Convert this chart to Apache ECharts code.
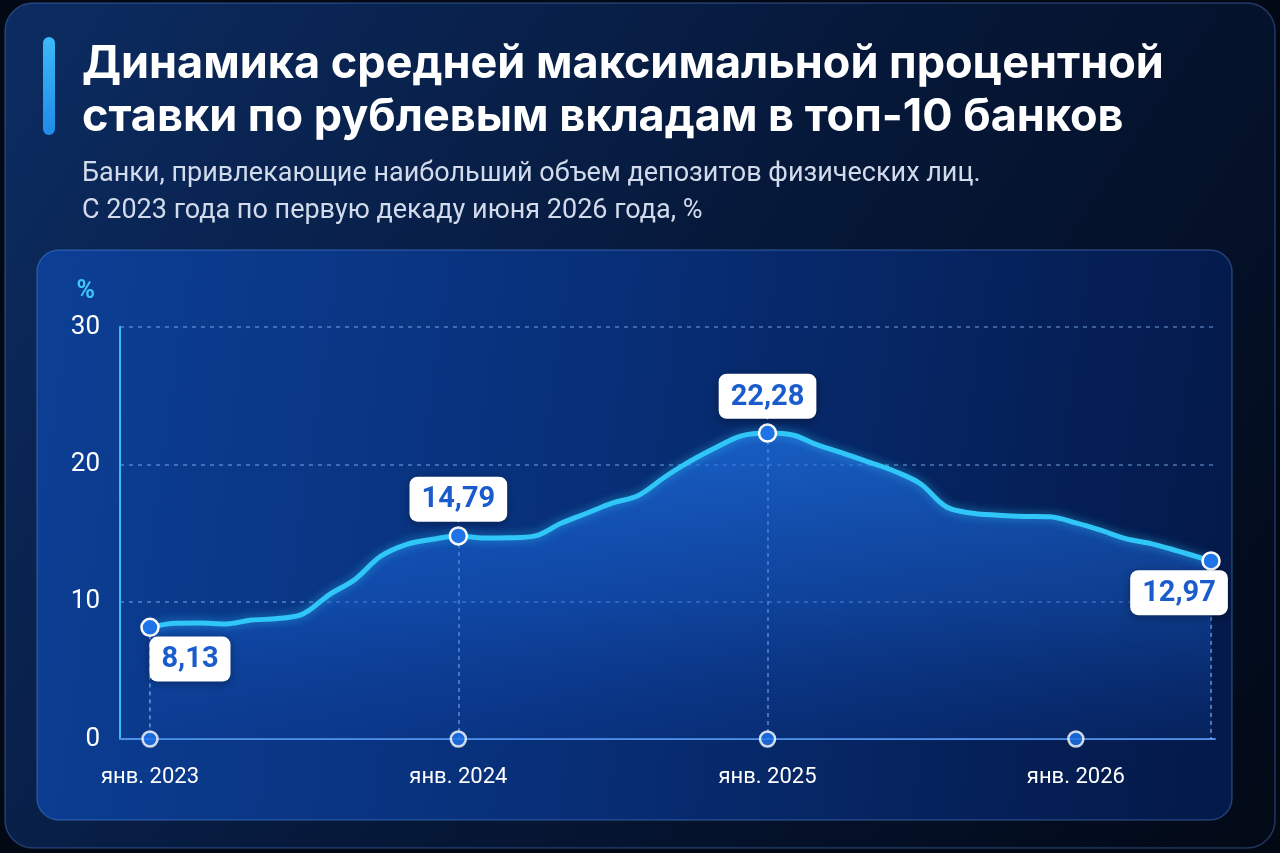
<!DOCTYPE html>
<html>
<head>
<meta charset="utf-8">
<script src="https://cdn.jsdelivr.net/npm/echarts@6/dist/echarts.min.js"></script>
<style>
html,body{margin:0;padding:0;background:#020814;}
#chart{width:1280px;height:853px;}
</style>
</head>
<body>
<div id="chart"></div>
<script>
// ---- data ----
const titleText = 'Динамика средней максимальной процентной\nставки по рублевым вкладам в топ-10 банков';
const subtitleText = 'Банки, привлекающие наибольший объем депозитов физических лиц.\nС 2023 года по первую декаду июня 2026 года, %';
const unitLabel = '%';
const dates = [
  '2023-01-01','2023-02-01','2023-03-01','2023-04-01','2023-05-01','2023-06-01',
  '2023-07-01','2023-08-01','2023-09-01','2023-10-01','2023-11-01','2023-12-01',
  '2024-01-01','2024-02-01','2024-03-01','2024-04-01','2024-05-01','2024-06-01',
  '2024-07-01','2024-08-01','2024-09-01','2024-10-01','2024-11-01','2024-12-01',
  '2025-01-01','2025-02-01','2025-03-01','2025-04-01','2025-05-01','2025-06-01',
  '2025-07-01','2025-08-01','2025-09-01','2025-10-01','2025-11-01','2025-12-01',
  '2026-01-01','2026-02-01','2026-03-01','2026-04-01','2026-05-01','2026-06-10'
];
const rates = [
  8.13, 8.43, 8.44, 8.38, 8.66, 8.77, 9.10, 10.50, 11.64, 13.31, 14.18, 14.54,
  14.79, 14.63, 14.65, 14.79, 15.69, 16.44, 17.18, 17.73, 19.06, 20.21, 21.22, 22.07,
  22.28, 22.12, 21.41, 20.80, 20.16, 19.48, 18.59, 16.89, 16.44, 16.30, 16.21, 16.18,
  15.74, 15.17, 14.59, 14.21, 13.70, 12.97
];
const labeledDates = ['2023-01-01','2024-01-01','2025-01-01','2026-06-10'];
const tickDates = ['2023-01-01','2024-01-01','2025-01-01','2026-01-01'];
const tickLabels = ['янв. 2023','янв. 2024','янв. 2025','янв. 2026'];
const yTicks = [0, 10, 20, 30];

// ---- helpers ----
function ts(s){ const p = s.split('-').map(Number); return Date.UTC(p[0], p[1]-1, p[2]); }
function fmt(v){ return v.toFixed(2).replace('.', ','); }
const DAY = 864e5;
const tickTs = tickDates.map(ts);
const xMin = ts(dates[0]) - 35.5 * DAY;
const xMax = ts(dates[dates.length-1]) + 4.7 * DAY;

const labelPlacement = {
  '2023-01-01': {position:'bottom', offset:[40,0], pointer:false},
  '2024-01-01': {position:'top', offset:[0,0], pointer:true},
  '2025-01-01': {position:'top', offset:[0,0], pointer:true},
  '2026-06-10': {position:'bottom', offset:[-32,0], pointer:false}
};

const boxRich = {
  v: {backgroundColor:'#ffffff', borderRadius:8, padding:[9,12,7,12], color:'#1a5ccc',
      fontSize:29, fontWeight:'bold', fontFamily:'Roboto', lineHeight:30,
      shadowBlur:8, shadowColor:'rgba(0,0,0,0.35)', shadowOffsetY:2},
  t: {color:'#ffffff', fontSize:12, lineHeight:8, align:'center', fontFamily:'DejaVu Sans'}
};

const lineData = dates.map((d, i) => {
  const item = {value:[ts(d), rates[i]]};
  if (labeledDates.indexOf(d) >= 0) {
    const lp = labelPlacement[d];
    item.symbol = 'circle';
    item.symbolSize = 17;
    item.label = {
      show:true, position:lp.position, offset:lp.offset,
      distance: lp.pointer ? 4 : 7,
      formatter: p => lp.pointer ? '{v|' + fmt(p.value[1]) + '}\n{t|▼}' : '{v|' + fmt(p.value[1]) + '}',
      rich: boxRich
    };
  } else {
    item.symbol = 'none';
  }
  return item;
});

const markLines = labeledDates.map(d => {
  const i = dates.indexOf(d);
  return [{coord:[ts(d), rates[i]]}, {coord:[ts(d), 0]}];
});

const chart = echarts.init(document.getElementById('chart'), null, {renderer:'canvas'});
chart.setOption({
  backgroundColor:'#020814',
  animation:false,
  graphic:[
    {type:'rect', z:-10, shape:{x:5, y:3, width:1270, height:845, r:28},
     style:{fill:new echarts.graphic.LinearGradient(0,0,1,1,[
        {offset:0, color:'#0c2c62'},{offset:0.5, color:'#061839'},{offset:1, color:'#020916'}]),
       stroke:'rgba(90,140,230,0.35)', lineWidth:1.5}},
    {type:'rect', z:-9, shape:{x:43, y:37, width:12, height:98, r:6},
     style:{fill:new echarts.graphic.LinearGradient(0,0,0,1,[
        {offset:0, color:'#3cbaf7'},{offset:1, color:'#1f8be8'}])}},
    {type:'rect', z:-9, shape:{x:37, y:250, width:1195, height:570, r:22},
     style:{fill:new echarts.graphic.LinearGradient(0,0,1,0.3,[
        {offset:0, color:'#0c3f95'},{offset:0.45, color:'#08307a'},{offset:1, color:'#041a4b'}]),
       stroke:'rgba(100,160,255,0.32)', lineWidth:1.5}}
  ],
  title:{
    text:titleText, subtext:subtitleText, left:77, top:33, itemGap:12,
    textStyle:{color:'#ffffff', fontFamily:'Inter', fontWeight:'bold', fontSize:45, lineHeight:53},
    subtextStyle:{color:'#d2dbeb', fontFamily:'Roboto', fontSize:27, lineHeight:37}
  },
  grid:{left:120, right:65, top:327, bottom:114, containLabel:false},
  xAxis:{
    type:'value', min:xMin, max:xMax,
    axisLine:{show:true, onZero:false, lineStyle:{color:'#4f8fe6', width:2}},
    axisTick:{show:false},
    splitLine:{show:false},
    axisLabel:{
      customValues:tickTs, color:'#ffffff', fontFamily:'Roboto', fontSize:22, margin:27,
      formatter: v => { let k = 0, best = Infinity; tickTs.forEach((t,j)=>{ const dd = Math.abs(t - v); if (dd < best){best = dd; k = j;} }); return tickLabels[k]; }
    }
  },
  yAxis:{
    type:'value', min:yTicks[0], max:yTicks[yTicks.length-1], interval:10,
    name:unitLabel, nameLocation:'end', nameGap:23,
    nameTextStyle:{color:'#3ec6f5', fontFamily:'Roboto', fontWeight:'bold', fontSize:25, align:'right', padding:[0,25,0,0]},
    axisLine:{show:true, lineStyle:{color:'#3cb9f2', width:2}},
    axisTick:{show:false},
    axisLabel:{color:'#ffffff', fontFamily:'Roboto', fontSize:26, margin:20},
    splitLine:{show:true, lineStyle:{color:'rgba(140,190,255,0.55)', type:[4,5], width:1.5}}
  },
  series:[
    {
      type:'line', data:lineData, smooth:0.35, showAllSymbol:true, z:3,
      lineStyle:{color:'#30c6f7', width:5, shadowBlur:10, shadowColor:'rgba(48,198,247,0.55)'},
      itemStyle:{color:'#1f74e8', borderColor:'#ffffff', borderWidth:2.5},
      areaStyle:{color:new echarts.graphic.LinearGradient(0,0,0,1,[
        {offset:0, color:'rgba(32,118,235,0.98)'},{offset:0.55, color:'rgba(24,96,210,0.68)'},{offset:1, color:'rgba(14,66,165,0.3)'}])},
      markLine:{silent:true, symbol:['none','none'], label:{show:false},
        lineStyle:{color:'rgba(160,205,255,0.75)', type:[4,4], width:1.5}, data:markLines, z:2}
    },
    {
      type:'scatter', data:tickTs.map(t => [t, 0]), symbol:'circle', symbolSize:15, z:6,
      itemStyle:{color:'#1f74e8', borderColor:'#ffffff', borderWidth:2.5}, silent:true
    }
  ]
});
</script>
</body>
</html>
